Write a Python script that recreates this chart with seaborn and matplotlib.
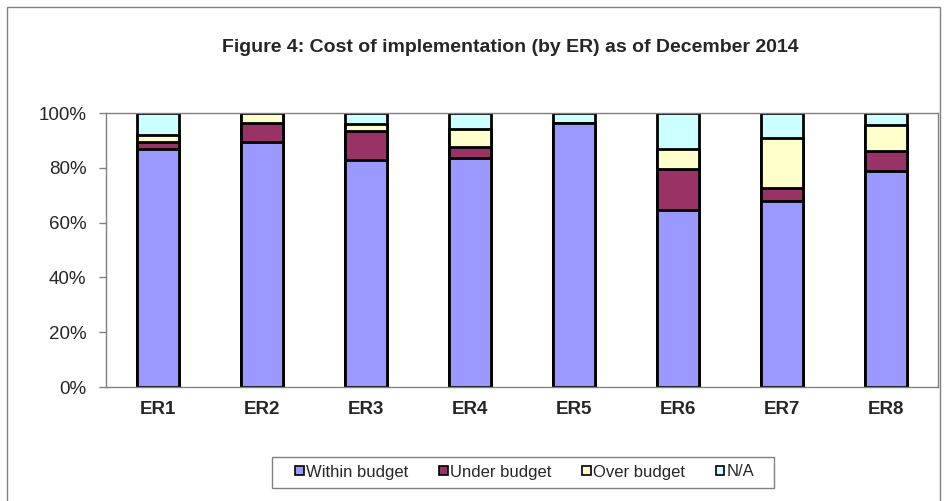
import numpy as np
import pandas as pd
import matplotlib
matplotlib.use("Agg")
import matplotlib.pyplot as plt
import seaborn as sns
from matplotlib.patches import Rectangle, Patch

categories = ["ER1", "ER2", "ER3", "ER4", "ER5", "ER6", "ER7", "ER8"]
within_budget = [87.0, 89.5, 83.0, 83.5, 96.5, 64.5, 68.0, 79.0]
under_budget = [2.5, 7.0, 10.5, 4.0, 0.0, 15.0, 4.5, 7.0]
over_budget = [2.5, 3.5, 2.5, 6.5, 0.0, 7.5, 18.5, 9.5]
not_available = [8.0, 0.0, 4.0, 6.0, 3.5, 13.0, 9.0, 4.5]

series = ["Within budget", "Under budget", "Over budget", "N/A"]
colors = ["#9999FF", "#993366", "#FFFFCC", "#CCFFFF"]

df = pd.DataFrame({
    "ER": categories,
    "Within budget": within_budget,
    "Under budget": under_budget,
    "Over budget": over_budget,
    "N/A": not_available,
})
# cumulative tops, drawn tallest first so lower layers sit on top
cum = df[series].cumsum(axis=1)
cum["ER"] = df["ER"]

sns.set_style("white")
plt.rcParams["font.family"] = ["Liberation Sans", "DejaVu Sans"]

fig = plt.figure(figsize=(9.49, 5.01), dpi=100)
ax = fig.add_axes([106 / 949, 1 - 387 / 501, 832 / 949, 274 / 501])

for name, color in reversed(list(zip(series, colors))):
    sns.barplot(data=cum, x="ER", y=name, color=color, width=0.4,
                edgecolor="black", linewidth=2, saturation=1, ax=ax,
                errorbar=None)

ax.set_ylim(0, 100)
ax.set_xlim(-0.5, 7.5)
ax.set_yticks(np.arange(0, 101, 20))
ax.set_yticklabels([f"{v}%" for v in range(0, 101, 20)], fontsize=13.5)
ax.set_xticks(range(len(categories)))
ax.set_xticklabels(categories, fontsize=13.5, fontweight="bold")
ax.set_xticks(np.arange(-0.5, 8, 1), minor=True)
ax.tick_params(axis="x", which="major", length=0, pad=10)
ax.tick_params(axis="x", which="minor", length=5, color="#808080", width=1, direction="out")
ax.tick_params(axis="y", length=5, color="#808080", width=1, direction="out", left=True, pad=9)
ax.set_xlabel("")
ax.set_ylabel("")
for s in ax.spines.values():
    s.set_visible(True)
    s.set_color("#808080")
    s.set_linewidth(1)

fig.text(510 / 949, 1 - 47 / 501, "Figure 4: Cost of implementation (by ER) as of December 2014",
         ha="center", va="center", fontsize=14, fontweight="bold")

handles = [Patch(facecolor=c, edgecolor="black", linewidth=1.2) for c in colors]
leg = fig.legend(handles, series, loc="center", bbox_to_anchor=(525 / 949, 1 - 472 / 501),
                 ncol=4, fontsize=12, frameon=False, handlelength=0.5,
                 handleheight=0.5, handletextpad=0.15, columnspacing=1.85,
                 borderpad=0.3, borderaxespad=0)

# legend box and outer chart frame
fig.patches.append(Rectangle((272 / 949, 1 - 488 / 501), 502 / 949, 31 / 501,
                             transform=fig.transFigure, fill=False,
                             edgecolor="#808080", linewidth=1))
fig.patches.append(Rectangle((7 / 949, -0.05), 933 / 949, 1.05 - 7 / 501,
                             transform=fig.transFigure, fill=False,
                             edgecolor="#808080", linewidth=1))

fig.savefig("out.png", dpi=100)
